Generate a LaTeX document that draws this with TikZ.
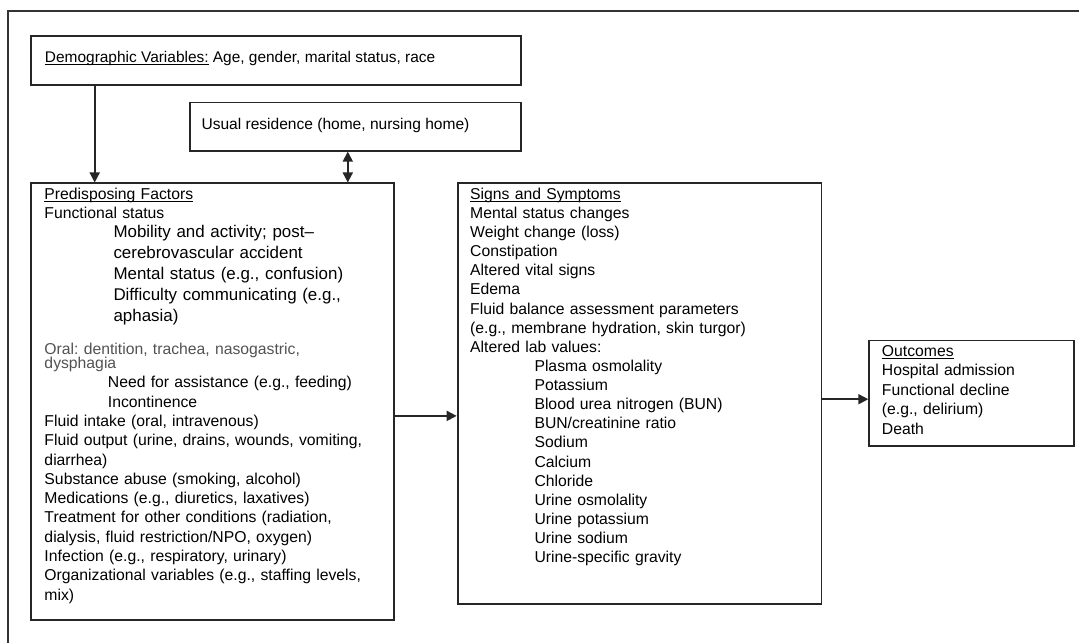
\documentclass[tikz,border=0pt]{standalone}
\usepackage{fontspec}
\setmainfont{Liberation Sans}
\usetikzlibrary{arrows.meta}
\frenchspacing
\newcommand{\tstrut}{\rule{0pt}{13bp}}
\newcommand{\uln}[1]{\leavevmode\setbox0\hbox{#1}\rlap{\rule[-2.4bp]{\wd0}{1bp}}\box0}
\tikzset{
  box/.style={draw=black!85, line width=1.8bp, inner sep=0pt, anchor=north west},
  txt/.style={inner sep=0pt, anchor=north west, text width=#1, align=left,
    font=\fontsize{15.8}{19.3}\selectfont},
  arr/.style={-{Triangle[length=10bp,width=10bp]}, line width=1.8bp, draw=black!85},
  dbl/.style={{Triangle[length=10bp,width=10bp]}-{Triangle[length=10bp,width=10bp]}, line width=1.8bp, draw=black!85},
}
\begin{document}
\begin{tikzpicture}[x=1bp,y=-1bp]
  \useasboundingbox (0,0) rectangle (1079,643);
  \draw[line width=1.2bp, black!80] (8,643) -- (8,11) -- (1079,11);

  \node[box, minimum width=489.7bp, minimum height=48.9bp] (demo) at (30.3,35.5) {};
  \node[anchor=west, inner sep=0pt, font=\fontsize{15.5}{19.3}\selectfont] (demotxt) at (44.8,58.5)
    {\uln{Demographic Variables:}\ Age, gender, marital status, race};

  \node[box, minimum width=331.3bp, minimum height=48.2bp] (resid) at (188.7,101.6) {};
  \node[anchor=west, inner sep=0pt, font=\fontsize{15.6}{19.3}\selectfont] (residtxt) at (201.4,125.7)
    {Usual residence (home, nursing home)};

  \node[box, minimum width=363.3bp, minimum height=436.5bp] (pred) at (30,182.5) {};
  \node[txt=340bp] (predhead) at (44.3,186.1)
    {\tstrut\uln{Predisposing Factors}\\Functional status};
  \node[txt=275bp, font=\fontsize{17}{21}\selectfont] (predfunc) at (113.3,224.8)
    {\tstrut Mobility and activity; post--\\cerebrovascular accident\\Mental status (e.g., confusion)\\Difficulty communicating (e.g.,\\aphasia)};
  \node[txt=340bp, text=black!68, font={\fontsize{15.8}{14.4}\selectfont\lineskiplimit=-20bp}] (predoral) at (44.3,341.1)
    {\tstrut Oral: dentition, trachea, nasogastric,\\dysphagia};
  \node[txt=345bp, font=\fontsize{15.8}{19.4}\selectfont] (predfluid) at (44.3,374.5)
    {{\leftskip=63.4bp\tstrut Need for assistance (e.g., feeding)\\Incontinence\par}\noindent
     Fluid intake (oral, intravenous)\\Fluid output (urine, drains, wounds, vomiting,\\diarrhea)\\Substance abuse (smoking, alcohol)\\Medications (e.g., diuretics, laxatives)\\Treatment for other conditions (radiation,\\dialysis, fluid restriction/NPO, oxygen)\\Infection (e.g., respiratory, urinary)\\Organizational variables (e.g., staffing levels,\\mix)};

  \node[box, minimum width=363.9bp, minimum height=420.2bp] (signs) at (456.7,182.5) {};
  \node[txt=345bp, font=\fontsize{15.8}{19.2}\selectfont] (signstxt) at (470,186.1)
    {\tstrut\uln{Signs and Symptoms}\\Mental status changes\\Weight change (loss)\\Constipation\\Altered vital signs\\Edema\\Fluid balance assessment parameters\\(e.g., membrane hydration, skin turgor)\\Altered lab values:\par\noindent
     {\leftskip=64.3bp Plasma osmolality\\Potassium\\Blood urea nitrogen (BUN)\\BUN/creatinine ratio\\Sodium\\Calcium\\Chloride\\Urine osmolality\\Urine potassium\\Urine sodium\\Urine-specific gravity\par}};

  \node[box, minimum width=205bp, minimum height=105.5bp] (outc) at (868.3,339.5) {};
  \node[txt=180bp, font=\fontsize{15.8}{19.5}\selectfont] (outctxt) at (881.7,343.1)
    {\tstrut\uln{Outcomes}\\Hospital admission\\Functional decline\\(e.g., delirium)\\Death};

  \draw[arr] ([xshift=64.4bp]demo.south west) -- ([xshift=64.4bp]demo.south west |- pred.north);
  \draw[dbl] ([xshift=159.1bp]resid.south west) -- ([xshift=159.1bp]resid.south west |- pred.north);
  \draw[arr] ([yshift=-14.25bp]pred.east) -- ([yshift=-14.25bp]pred.east -| signs.west);
  \draw[arr] ([yshift=-5.7bp]signs.east) -- ([yshift=-5.7bp]signs.east -| outc.west);
\end{tikzpicture}
\end{document}
